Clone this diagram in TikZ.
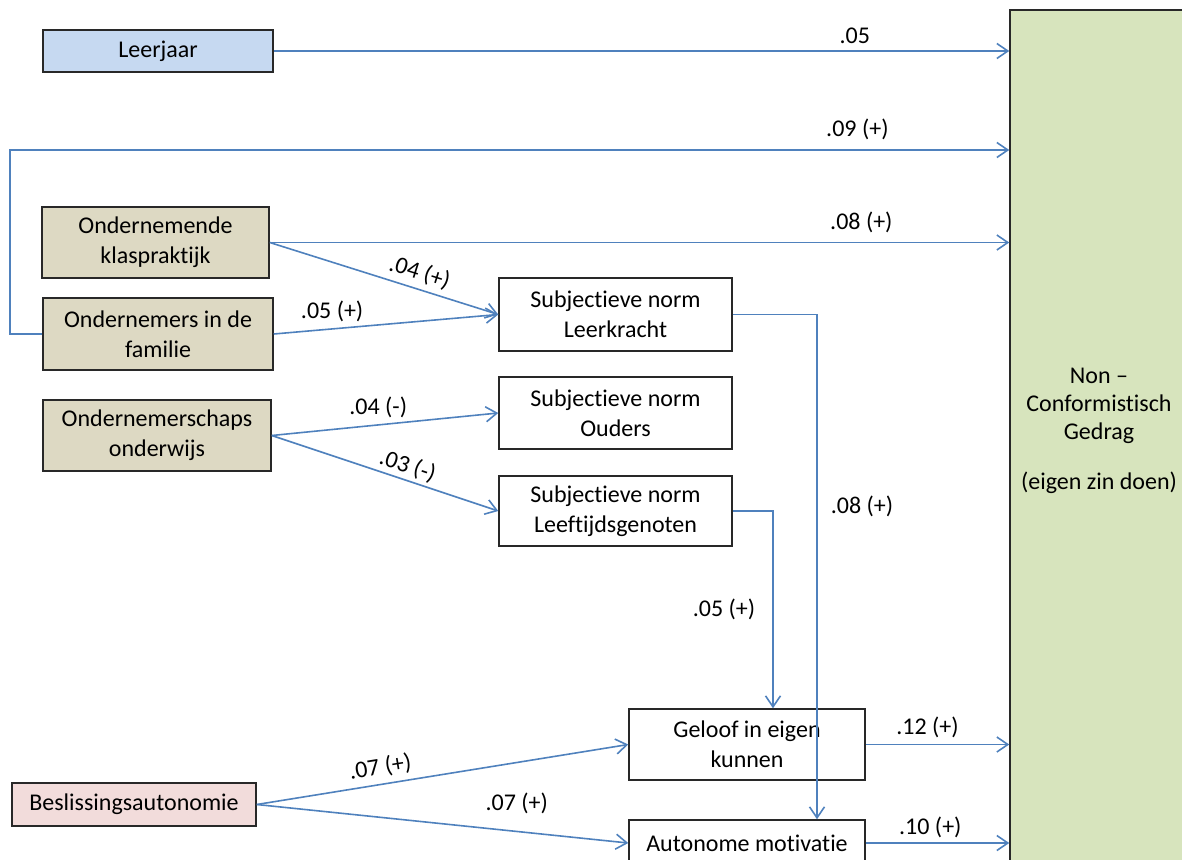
\documentclass[tikz,border=0pt]{standalone}
\usepackage{fontspec}
\setmainfont{Carlito}[Ligatures=NoCommon]
\usetikzlibrary{arrows.meta}
\definecolor{linkblue}{RGB}{79,129,189}
\definecolor{boxline}{RGB}{40,40,40}
\definecolor{fillblue}{RGB}{198,217,241}
\definecolor{filltan}{RGB}{221,217,195}
\definecolor{fillpink}{RGB}{242,220,219}
\definecolor{fillgreen}{RGB}{215,228,189}
\begin{document}
\begin{tikzpicture}[x=1pt,y=-1pt,
  font=\fontsize{24}{30}\selectfont,
  box/.style={draw=boxline, line width=1.5pt, align=center, inner sep=0pt},
  arr/.style={draw=linkblue, line width=1.6pt,
    -{Straight Barb[length=11pt,width=15pt,line width=1.6pt]}},
  coef/.style={inner sep=3pt, text=black}]
\useasboundingbox (0,0) rectangle (1182,859);
\clip (0,0) rectangle (1182,859);

% outcome block on the right
\node[box, fill=fillgreen, minimum width=180, minimum height=860] (ncg) at (1100,440) {};
\node[align=center, font=\fontsize{24}{28}\selectfont] (ncgtext) at (1099,431)
  {Non --\\Conformistisch\\Gedrag\\[22pt](eigen zin doen)};

% predictors
\node[box, fill=fillblue, minimum width=230, minimum height=42] (leer) at (158,51) {Leerjaar};
\node[box, fill=filltan, minimum width=227, minimum height=71] (klas) at (155.5,242.5) {Ondernemende\\klaspraktijk};
\node[box, fill=filltan, minimum width=230, minimum height=72] (fam) at (158,334) {Ondernemers in de\\familie};
\node[box, fill=filltan, minimum width=228, minimum height=71] (ondw) at (157,435.5) {Ondernemerschaps\\onderwijs};
\node[box, fill=fillpink, minimum width=244, minimum height=43] (besl) at (134,804.5) {Beslissingsautonomie};

% mediators
\node[box, minimum width=233, minimum height=73] (snl) at (615.5,314.5) {Subjectieve norm\\Leerkracht};
\node[box, minimum width=233, minimum height=72] (sno) at (615.5,413) {Subjectieve norm\\Ouders};
\node[box, minimum width=233, minimum height=70] (snp) at (615.5,511) {Subjectieve norm\\Leeftijdsgenoten};
\node[box, minimum width=236, minimum height=71] (gel) at (747,744.5) {Geloof in eigen\\kunnen};
\node[box, minimum width=236, minimum height=46] (aut) at (747,843) {Autonome motivatie};

% columns of the vertical drops
\coordinate (xa) at (817,0);
\coordinate (xb) at (773,0);
\coordinate (loopx) at (10,150);

% direct paths to the outcome
\draw[arr] (leer.east) -- node[coef, pos=0.79, above=4pt] {.05} (ncg.west |- leer.east);
\draw[arr] (fam.west) -| (loopx) -- node[coef, pos=0.848, above=6pt] {.09 (+)} (ncg.west |- loopx);
\draw[arr] (klas.east) -- node[coef, pos=0.80, above=6pt] {.08 (+)} (ncg.west |- klas.east);

% paths to the subjective norms
\draw[arr] (klas.east) -- node[coef, pos=0.635, sloped, above=2pt] {.04 (+)} (snl.west);
\draw[arr] (fam.east) -- node[coef, pos=0.26, above=3pt] {.05 (+)} (snl.west);
\draw[arr] (ondw.east) -- node[coef, pos=0.47, above=3pt] {.04 (-)} (sno.west);
\draw[arr] (ondw.east) -- node[coef, pos=0.58, sloped, above=0pt] {.03 (-)} (snp.west);

% paths from Beslissingsautonomie
\draw[arr] (besl.east) -- node[coef, pos=0.34, sloped, above=3pt] {.07 (+)} (gel.west);
\draw[arr] (besl.east) -- node[coef, pos=0.70, above=14pt] {.07 (+)} (aut.west);

% vertical drops
\draw[arr] (snp.east) -| node[coef, pos=0.75, anchor=east, xshift=-14pt] {.05 (+)} (gel.north -| xb);
\draw[arr] (snl.east) -| node[coef, pos=0.69, anchor=west, xshift=10pt] {.08 (+)} (aut.north -| xa);

% mediators to the outcome
\draw[arr] (gel.east) -- node[coef, pos=0.43, above=3pt] {.12 (+)} (ncg.west |- gel.east);
\draw[arr] (aut.east) -- node[coef, pos=0.45, above=1pt] {.10 (+)} (ncg.west |- aut.east);
\end{tikzpicture}
\end{document}
